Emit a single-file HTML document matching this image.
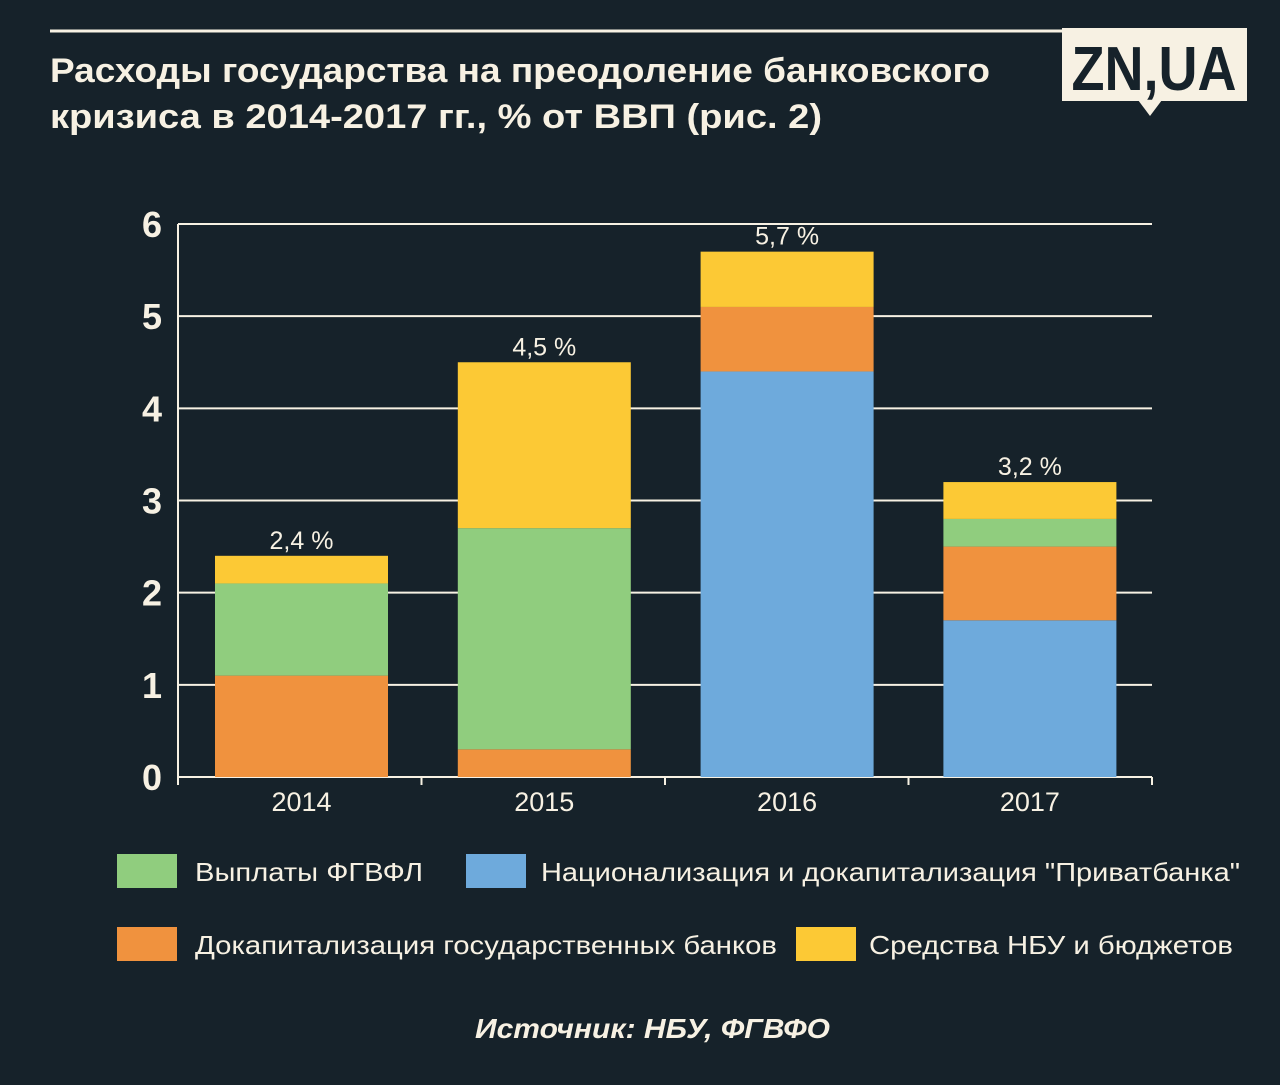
<!DOCTYPE html>
<html><head><meta charset="utf-8"><style>
body{margin:0;background:#16222a;width:1280px;height:1080px;overflow:hidden;font-family:"Liberation Sans","DejaVu Sans",sans-serif}
</style></head><body>
<svg id="chart" width="1280" height="1080" xmlns="http://www.w3.org/2000/svg">
<rect width="1280" height="1080" fill="#16222a"/>
<line x1="50" y1="31" x2="1064" y2="31" stroke="#f7f1e3" stroke-width="3"/>
<g fill="#f7f1e3" font-weight="bold" font-size="34">
<text x="50" y="82" textLength="940" lengthAdjust="spacingAndGlyphs">Расходы государства на преодоление банковского</text>
<text x="50" y="128" textLength="772" lengthAdjust="spacingAndGlyphs">кризиса в 2014-2017 гг., % от ВВП (рис. 2)</text>
</g>
<g>
<rect x="1062" y="28" width="185" height="73" fill="#f7f1e3"/>
<polygon points="1138,100 1162,100 1150,116" fill="#f7f1e3"/>
<text x="1154" y="90" text-anchor="middle" font-size="62" font-weight="bold" fill="#16222a" textLength="165" lengthAdjust="spacingAndGlyphs">ZN,UA</text>
</g>
<g id="grid"></g>
<g id="bars"></g>
<g id="labels"></g>
<g font-size="26" fill="#f7f1e3">
<rect x="117" y="854" width="60" height="34" fill="#90cd7e"/>
<text x="195" y="881" fill="#f7f1e3" textLength="228" lengthAdjust="spacingAndGlyphs">Выплаты ФГВФЛ</text>
<rect x="466" y="854" width="60" height="34" fill="#6eaadc"/>
<text x="541" y="881" fill="#f7f1e3" textLength="699" lengthAdjust="spacingAndGlyphs">Национализация и докапитализация "Приватбанка"</text>
<rect x="117" y="927" width="60" height="34" fill="#f0923e"/>
<text x="195" y="954" fill="#f7f1e3" textLength="582" lengthAdjust="spacingAndGlyphs">Докапитализация государственных банков</text>
<rect x="796" y="927" width="60" height="34" fill="#fcc935"/>
<text x="869" y="954" fill="#f7f1e3" textLength="364" lengthAdjust="spacingAndGlyphs">Средства НБУ и бюджетов</text>
</g>
<text x="475" y="1038" font-size="28" font-weight="bold" font-style="italic" fill="#f7f1e3" textLength="355" lengthAdjust="spacingAndGlyphs">Источник: НБУ, ФГВФО</text>
</svg>
<script>
const categories=["2014","2015","2016","2017"];
const privat=[0,0,4.4,1.7];
const stateBanks=[1.1,0.3,0.7,0.8];
const fgvfl=[1.0,2.4,0,0.3];
const nbu=[0.3,1.8,0.6,0.4];
const totals=["2,4 %","4,5 %","5,7 %","3,2 %"];
const yTicks=[0,1,2,3,4,5,6];
const NS="http://www.w3.org/2000/svg";
const x0=178,x1=1152,y0=777,y6=224;
const y=v=>y0-(y0-y6)/6*v;
const band=(x1-x0)/4;
const xc=i=>301.5+242.8*i;
function mk(t,a,p){const e=document.createElementNS(NS,t);for(const k in a)e.setAttribute(k,a[k]);p.appendChild(e);return e;}
const grid=document.getElementById('grid'),bars=document.getElementById('bars'),labels=document.getElementById('labels');
yTicks.forEach(v=>{
 const l=mk('line',{x1:x0,x2:x1,y1:y(v),y2:y(v),stroke:'#f7f1e3','stroke-width':2},grid);
 
 
 const t=mk('text',{x:152,y:y(v)+13,'text-anchor':'middle','font-size':36,'font-weight':'bold',fill:'#f7f1e3'},grid);
 t.textContent=v;
 
 
});
const ax=mk('line',{x1:x0,x2:x0,y1:y6,y2:y0+8,stroke:'#f7f1e3','stroke-width':2},grid);


for(let i=1;i<=4;i++){const tk=mk('line',{x1:x0+band*i,x2:x0+band*i,y1:y0,y2:y0+8,stroke:'#f7f1e3','stroke-width':2},grid);
 
 }
const series=[[privat,'#6eaadc','privat'],[stateBanks,'#f0923e','state-banks'],[fgvfl,'#90cd7e','fgvfl'],[nbu,'#fcc935','nbu']];
const bw=173;
categories.forEach((c,i)=>{
 let acc=0;
 series.forEach(([arr,col,nm])=>{
  const v=arr[i]; if(v<=0)return;
  const r=mk('rect',{x:xc(i)-bw/2,y:y(acc+v),width:bw,height:y(acc)-y(acc+v),fill:col},bars);
  
  
  acc+=v;
 });
 const t=mk('text',{x:xc(i),y:y(acc)-7,'text-anchor':'middle','font-size':25,fill:'#f7f1e3'},labels);
 t.textContent=totals[i];
 
 
 const xl=mk('text',{x:xc(i),y:811,'text-anchor':'middle','font-size':27,fill:'#f7f1e3'},labels);
 xl.textContent=c;
 
 
});
</script>
</body></html>
